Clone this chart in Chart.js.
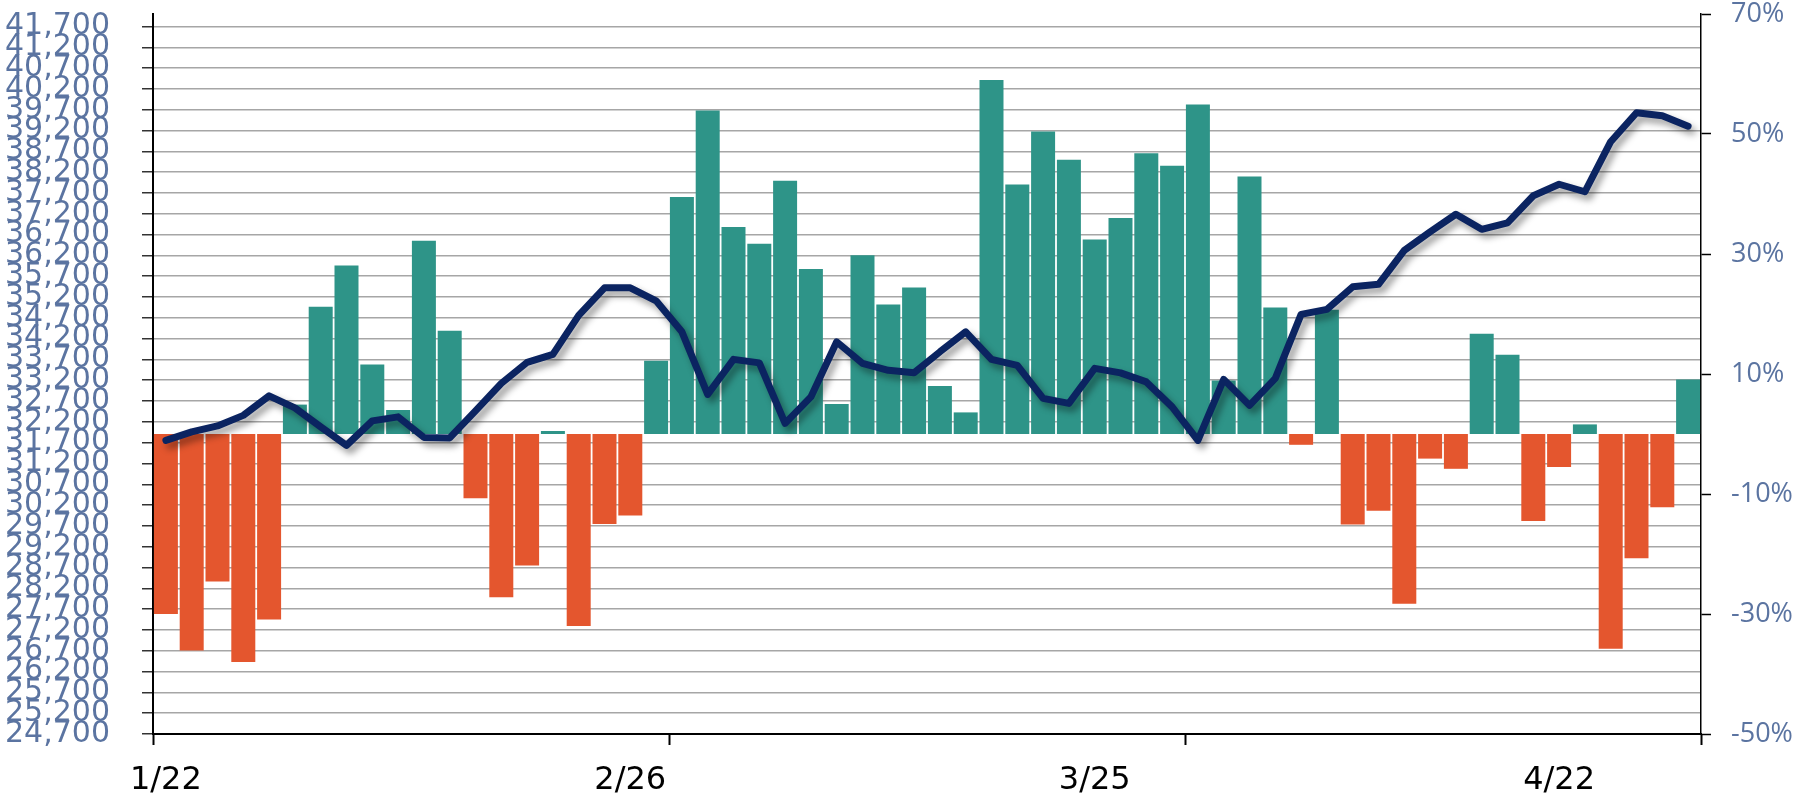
<!DOCTYPE html>
<html>
<head>
<meta charset="utf-8">
<script src="https://cdn.jsdelivr.net/npm/chart.js@4.4.1/dist/chart.umd.min.js"></script>
<style>
  html, body { margin: 0; padding: 0; background: #fff; }
  #wrap { width: 1818px; height: 795px; position: relative; }
</style>
</head>
<body>
<div id="wrap"><canvas id="chart"></canvas></div>
<script>
// date labels shown under the axis, one every 18 sessions
const tickLabels = ['1/22', '2/26', '3/25', '4/22'];
const labelStep = 18;
const markStep = 20;

// daily change (%), right axis
const changePct = [
  -30.0, -36.1, -24.6, -38.0, -30.9, 4.9, 21.2, 28.1, 11.6, 4.0,
  32.2, 17.2, -10.7, -27.2, -21.9, 0.5, -32.0, -15.0, -13.6, 12.2,
  39.5, 53.9, 34.5, 31.7, 42.2, 27.5, 5.0, 29.8, 21.6, 24.4,
  8.0, 3.6, 59.0, 41.6, 50.4, 45.7, 32.4, 36.0, 46.8, 44.7,
  54.9, 8.9, 42.9, 21.1, -1.8, 20.7, -15.1, -12.8, -28.3, -4.1,
  -5.8, 16.7, 13.2, -14.5, -5.5, 1.6, -35.8, -20.7, -12.2, 9.1
];

// index level, left axis
const indexLevel = [
  31755, 31959, 32103, 32356, 32825, 32536, 32079, 31635, 32224, 32320,
  31827, 31815, 32464, 33125, 33630, 33822, 34760, 35421, 35421, 35108,
  34363, 32860, 33702, 33618, 32163, 32800, 34123, 33606, 33438, 33378,
  33882, 34363, 33702, 33558, 32764, 32644, 33486, 33378, 33160, 32560,
  31755, 33221, 32596, 33245, 34784, 34904, 35445, 35505, 36322, 36766,
  37188, 36827, 36983, 37633, 37909, 37729, 38931, 39628, 39556, 39303
];

// left axis ticks: 24,700 .. 41,700 every 500
const leftTicks = [];
for (let v = 24700; v <= 41700; v += 500) leftTicks.push(v);

const labels = changePct.map((_, i) => i);
const axisBlue = '#5b74a1';

// soft drop shadow under the line
const lineShadow = {
  id: 'lineShadow',
  beforeDatasetDraw(chart, args) {
    if (args.meta.type !== 'line') return;
    const ctx = chart.ctx;
    ctx.save();
    ctx.shadowColor = 'rgba(0,0,0,0.4)';
    ctx.shadowBlur = 7;
    ctx.shadowOffsetX = 4;
    ctx.shadowOffsetY = 5;
  },
  afterDatasetDraw(chart, args) {
    if (args.meta.type === 'line') chart.ctx.restore();
  }
};

// keep tick padding from pushing the plot down
function noVertPad(s, w) {
  s.width = w;
  s.paddingTop = 0;
  s.paddingBottom = 0;
}

new Chart(document.getElementById('chart'), {
  type: 'bar',
  data: {
    labels: labels,
    datasets: [
      {
        type: 'line',
        data: indexLevel,
        yAxisID: 'y',
        borderColor: '#0b2461',
        borderWidth: 7,
        pointRadius: 0,
        tension: 0,
        borderJoinStyle: 'round',
        borderCapStyle: 'round',
        order: 0
      },
      {
        type: 'bar',
        data: changePct,
        yAxisID: 'y1',
        backgroundColor: ctx => ctx.raw >= 0 ? '#2e9488' : '#e4562e',
        borderWidth: 0,
        barPercentage: 0.93,
        categoryPercentage: 1.0,
        order: 1
      }
    ]
  },
  options: {
    responsive: true,
    maintainAspectRatio: false,
    animation: false,
    layout: { padding: { top: 14 } },
    plugins: {
      legend: { display: false },
      tooltip: { enabled: false }
    },
    scales: {
      x: {
        type: 'category',
        offset: true,
        grid: {
          offset: true,
          drawOnChartArea: false,
          tickLength: 11,
          tickWidth: 2,
          tickColor: ctx => (ctx.type === 'scale' || ctx.index % markStep === 0) ? '#000' : 'rgba(0,0,0,0)'
        },
        border: { color: '#000', width: 2 },
        ticks: {
          autoSkip: false,
          maxRotation: 0,
          padding: 20,
          color: '#000',
          font: { family: 'DejaVu Sans', size: 32, lineHeight: 1 },
          callback: (v, i) => i % labelStep === 0 ? tickLabels[i / labelStep] : ''
        },
        afterFit: s => { s.height = 61; }
      },
      y: {
        position: 'left',
        min: 24700,
        max: 42000,
        afterBuildTicks: s => { s.ticks = leftTicks.map(v => ({ value: v })); },
        grid: {
          color: '#a6a6a6',
          lineWidth: 1.5,
          tickColor: '#333',
          tickLength: 11,
          tickWidth: 1.5
        },
        border: { color: '#000', width: 2 },
        ticks: {
          autoSkip: false,
          padding: 32,
          color: axisBlue,
          font: { family: 'DejaVu Sans', size: 30, lineHeight: 1 },
          callback: v => v.toLocaleString('en-US')
        },
        afterFit: s => noVertPad(s, 153)
      },
      y1: {
        position: 'right',
        min: -50,
        max: 70,
        grid: {
          drawOnChartArea: false,
          color: '#000',
          tickLength: 10,
          tickWidth: 1.5
        },
        border: { color: '#000', width: 1.5 },
        ticks: {
          stepSize: 20,
          padding: 20,
          color: axisBlue,
          font: { family: 'Open Sans', size: 27, lineHeight: 1 },
          callback: v => v + '%'
        },
        afterFit: s => noVertPad(s, 117)
      }
    }
  },
  plugins: [lineShadow]
});
</script>
</body>
</html>
